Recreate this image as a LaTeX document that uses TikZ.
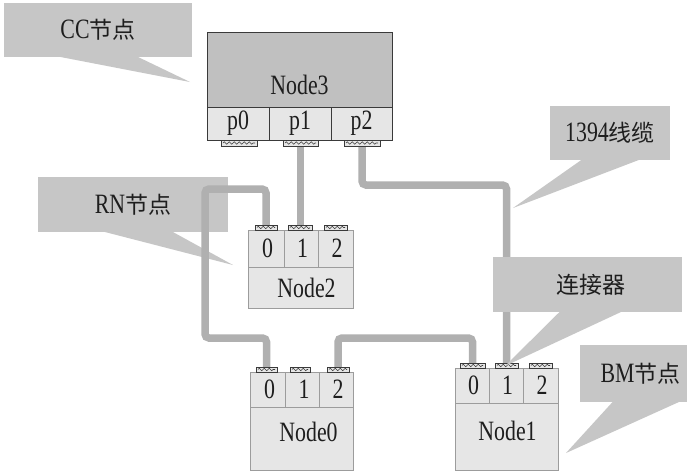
\documentclass[tikz,border=0pt]{standalone}
\usepackage{graphicx}
\usepackage{fontspec}
\setmainfont{Liberation Serif}
\newfontfamily\cjk{Noto Sans CJK SC}
\usetikzlibrary{decorations.pathmorphing}
\pgfdeclarelayer{bottom}
\pgfdeclarelayer{wires}
\pgfsetlayers{bottom,wires,main}
\definecolor{calloutgray}{HTML}{C6C6C6}
\definecolor{wiregray}{HTML}{B0B0B0}
\definecolor{nodefill}{HTML}{E6E6E6}
\definecolor{nodeline}{HTML}{9C9C9C}
\definecolor{mainfill}{HTML}{C0C0C0}
\definecolor{darkline}{HTML}{3A3A3A}
\definecolor{txt}{HTML}{1E1E1E}
\newcommand{\lt}[1]{\scalebox{0.78}[1]{\fontsize{28}{28}\selectfont #1}}
\newcommand{\ct}[1]{{\cjk\fontsize{23}{23}\selectfont #1}}
\begin{document}
\begin{tikzpicture}[x=1pt,y=-1pt,
  wire/.style={line width=7.5pt, draw=wiregray, rounded corners=4pt},
  callbox/.style={fill=calloutgray, inner sep=0pt, text=txt},
  pointer/.style={fill=calloutgray},
  n3main/.style={draw=darkline, fill=mainfill, line width=1pt, inner sep=0pt, text=txt},
  n3port/.style={draw=darkline, fill=nodefill, line width=1pt, inner sep=0pt, minimum height=33pt, text=txt},
  ncell/.style={draw=nodeline, fill=nodefill, line width=0.8pt, inner sep=0pt, text=txt},
  conn/.style={draw=darkline, fill=nodefill, line width=0.8pt, inner sep=0pt,
    path picture={\draw[darkline, line width=0.6pt, decorate,
      decoration={zigzag, segment length=5pt, amplitude=1.3pt}]
      ([xshift=2pt]path picture bounding box.west) -- ([xshift=-2pt]path picture bounding box.east);}}
]
\useasboundingbox (0,0) rectangle (687,475);
\begin{pgfonlayer}{bottom}
\fill[white] (0,0) rectangle (687,475);
\end{pgfonlayer}

% Node3
\node[n3main, minimum width=185pt, minimum height=75pt] (n3) at (299.5,69.5) {\raisebox{-25pt}[0pt][0pt]{\lt{Node3}}};
\node[n3port, minimum width=62pt] (n3p0) at (238,123.5) {\lt{p0}};
\node[n3port, minimum width=62pt] (n3p1) at (300,123.5) {\lt{p1}};
\node[n3port, minimum width=61pt] (n3p2) at (361.5,123.5) {\lt{p2}};

% Node2
\node[ncell, minimum width=36pt, minimum height=37pt] (n2p0) at (266,248.5) {\hspace*{3pt}\lt{0}};
\node[ncell, minimum width=34pt, minimum height=37pt] (n2p1) at (301,248.5) {\hspace*{3pt}\lt{1}};
\node[ncell, minimum width=35pt, minimum height=37pt] (n2p2) at (335.5,248.5) {\hspace*{3pt}\lt{2}};
\node[ncell, minimum width=105pt, minimum height=41pt] (n2) at (300.5,287.5) {\hspace*{12pt}\lt{Node2}};

% Node0
\node[ncell, minimum width=35pt, minimum height=35pt] (n0p0) at (267.5,389.5) {\hspace*{4pt}\lt{0}};
\node[ncell, minimum width=34pt, minimum height=35pt] (n0p1) at (302,389.5) {\hspace*{4pt}\lt{1}};
\node[ncell, minimum width=34pt, minimum height=35pt] (n0p2) at (336,389.5) {\hspace*{4pt}\lt{2}};
\node[ncell, minimum width=103pt, minimum height=63pt] (n0) at (301.5,438.5) {\hspace*{14pt}\raisebox{-2.5pt}[0pt][0pt]{\lt{Node0}}};

% Node1
\node[ncell, minimum width=34pt, minimum height=35pt] (n1p0) at (472,385.5) {\hspace*{3pt}\lt{0}};
\node[ncell, minimum width=34pt, minimum height=35pt] (n1p1) at (506,385.5) {\hspace*{3pt}\lt{1}};
\node[ncell, minimum width=35pt, minimum height=35pt] (n1p2) at (540.5,385.5) {\hspace*{3pt}\lt{2}};
\node[ncell, minimum width=103pt, minimum height=67pt] (n1) at (506.5,436.5) {\hspace*{2pt}\raisebox{-3.5pt}[0pt][0pt]{\lt{Node1}}};

% plugs
\node[conn, minimum width=36pt, minimum height=6pt] (c3a) at (239,143) {};
\node[conn, minimum width=35pt, minimum height=6pt] (c3b) at (300.5,143) {};
\node[conn, minimum width=36pt, minimum height=6pt] (c3c) at (362,143) {};
\node[conn, minimum width=22pt, minimum height=5pt] (c2a) at (266,227.5) {};
\node[conn, minimum width=24pt, minimum height=5pt] (c2b) at (300,227.5) {};
\node[conn, minimum width=23pt, minimum height=5pt] (c2c) at (335.5,227.5) {};
\node[conn, minimum width=21pt, minimum height=5pt] (c0a) at (266.5,369.5) {};
\node[conn, minimum width=20pt, minimum height=5pt] (c0b) at (300,369.5) {};
\node[conn, minimum width=22pt, minimum height=5pt] (c0c) at (338,369.5) {};
\node[conn, minimum width=25pt, minimum height=5pt] (c1a) at (472.5,365.5) {};
\node[conn, minimum width=23pt, minimum height=5pt] (c1b) at (506.5,365.5) {};
\node[conn, minimum width=23pt, minimum height=5pt] (c1c) at (540.5,365.5) {};

% wires (below nodes)
\begin{pgfonlayer}{wires}
\draw[wire] (c3b.center) -- (c3b.center |- c2b.center);
\draw[wire] (c3c.center) |- (506.5,185) -- (c1b.center);
\draw[wire] (c2a.center) |- (205,189) |- (266.5,338) -- (c0a.center);
\draw[wire] (c0c.center) |- (472.5,338) -- (c1a.center);
\end{pgfonlayer}

% RN callout (below the wires)
\begin{pgfonlayer}{bottom}
\node[callbox, minimum width=190pt, minimum height=55pt] (rn) at (133,204.5) {\lt{RN}\ct{节点}};
\fill[pointer] (103,231.5) -- (172,231.5) -- (233,265) -- cycle;
\end{pgfonlayer}

% callouts above
\node[callbox, minimum width=188pt, minimum height=54pt] (cc) at (98,30) {\lt{CC}\ct{节点}};
\fill[pointer] (58,56.5) -- (137,56.5) -- (190,82) -- cycle;

\node[callbox, minimum width=120pt, minimum height=54pt] (cable) at (610,133) {\lt{1394}\ct{线缆}};
\fill[pointer] (582,159.5) -- (640,159.5) -- (513,208) -- cycle;

\node[callbox, minimum width=189pt, minimum height=55pt] (plug) at (587.5,284.5) {\hspace*{7pt}\ct{连接器}};
\fill[pointer] (560,311.5) -- (622,311.5) -- (505,366) -- cycle;

\node[callbox, minimum width=107pt, minimum height=57pt] (bm) at (633.5,373.5) {\hspace*{14pt}\lt{BM}\ct{节点}};
\fill[pointer] (613,401.5) -- (680,401.5) -- (566,453) -- cycle;
\end{tikzpicture}
\end{document}
